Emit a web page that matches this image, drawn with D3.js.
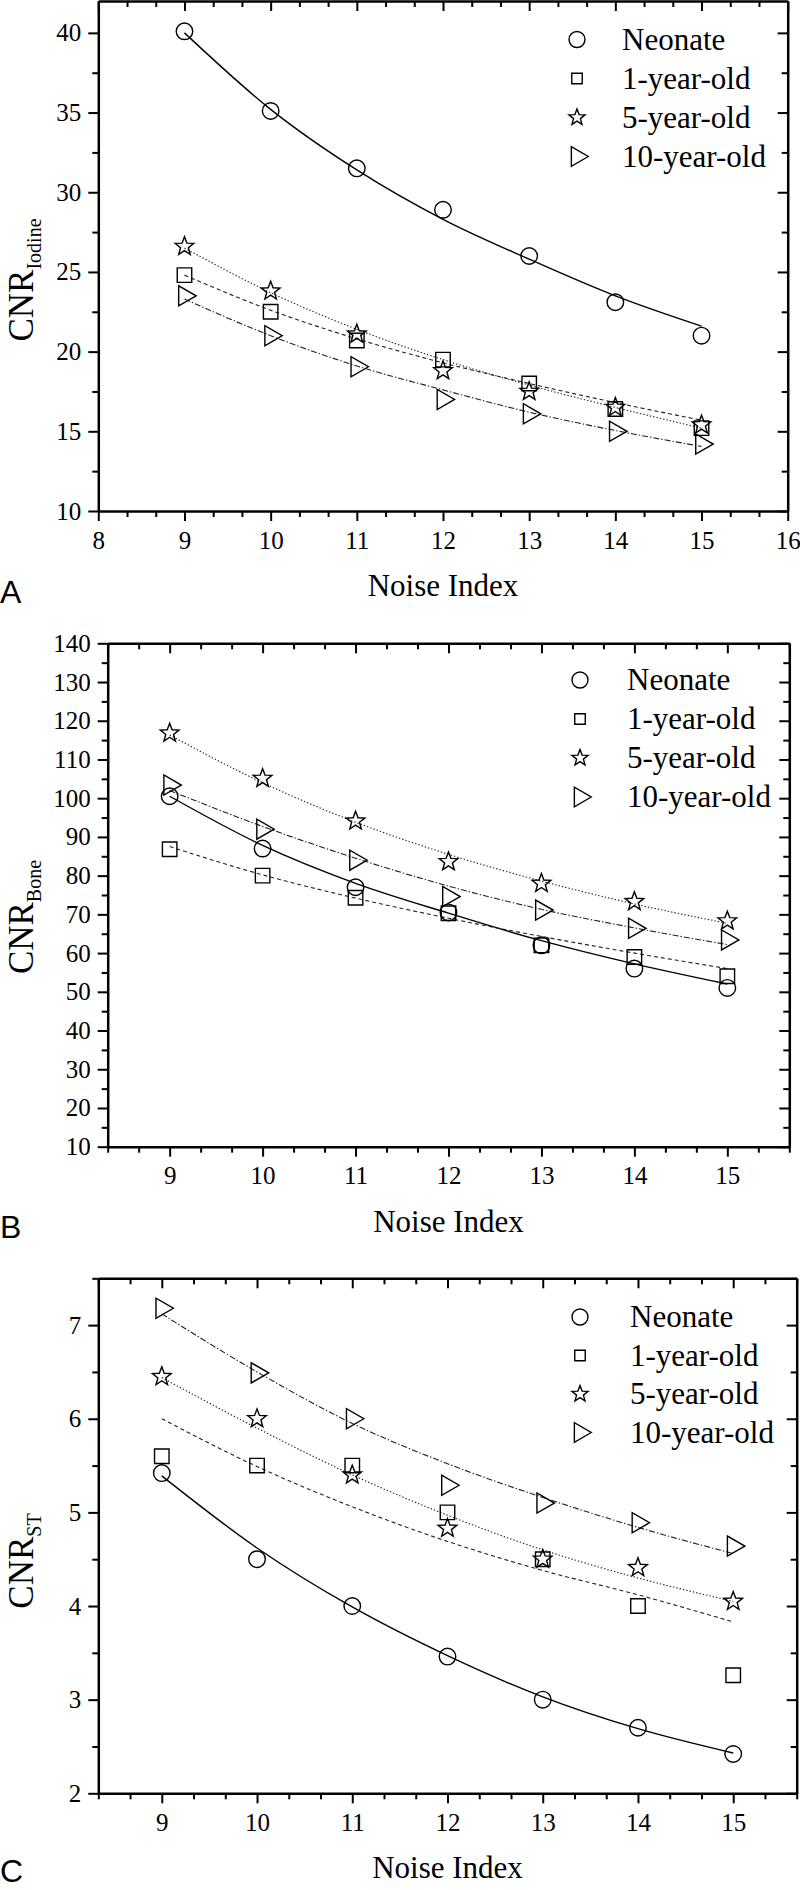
<!DOCTYPE html>
<html><head><meta charset="utf-8">
<script src="https://cdn.jsdelivr.net/npm/d3@7"></script>
<style>body{margin:0;background:#fff}svg{display:block}</style>
</head><body>
<svg id="c" width="800" height="1890"></svg>
<script>
// ---------- data ----------
const noiseIndex = [9,10,11,12,13,14,15];
const seriesNames = ["Neonate","1-year-old","5-year-old","10-year-old"];

// Panel A: CNR Iodine
const iodineNeonate = [40.1,35.1,31.5,28.9,26.0,23.1,21.0];
const iodine1yr     = [24.8,22.5,20.7,19.5,18.0,16.4,15.2];
const iodine5yr     = [26.6,23.8,21.1,18.8,17.5,16.5,15.4];
const iodine10yr    = [23.5,21.0,19.05,17.0,16.1,15.0,14.2];
const iodineNeonateFit = [40.0,35.2,31.4,28.3,25.8,23.5,21.6];
const iodine1yrFit     = [24.8,22.6,20.8,19.3,18.0,16.8,15.7];
const iodine5yrFit     = [26.5,23.7,21.4,19.5,17.9,16.5,15.2];
const iodine10yrFit    = [23.3,21.0,19.1,17.6,16.2,15.05,14.05];

// Panel B: CNR Bone
const boneNeonate = [100.5,87.0,77.0,70.5,62.0,56.0,51.0];
const bone1yr     = [86.8,80.0,74.3,70.3,62.0,59.0,54.0];
const bone5yr     = [116.8,105.1,94.1,83.6,78.0,73.3,68.3];
const bone10yr    = [103.4,92.0,84.0,74.6,71.1,66.4,63.4];
const boneNeonateFit = [100.5,87.8,78.0,70.3,63.2,57.2,52.0];
const bone1yrFit     = [87.5,80.2,74.2,69.0,64.3,60.0,56.0];
const bone5yrFit     = [116.3,104.0,93.8,85.5,78.6,72.7,67.7];
const bone10yrFit    = [102.0,92.7,84.5,77.3,71.3,66.5,62.2];

// Panel C: CNR ST
const stNeonate = [5.42,4.50,4.00,3.46,3.00,2.70,2.42];
const st1yr     = [5.60,5.50,5.50,5.00,4.50,4.00,3.26];
const st5yr     = [6.45,6.00,5.40,4.83,4.50,4.41,4.05];
const st10yr    = [7.18,6.49,6.00,5.29,5.10,4.89,4.64];
const stNeonateFit = [5.39,4.62,3.99,3.47,3.03,2.69,2.43];
const st1yrFit     = [6.00,5.49,5.06,4.69,4.38,4.12,3.83];
const st5yrFit     = [6.44,5.90,5.40,4.97,4.60,4.30,4.05];
const st10yrFit    = [7.12,6.50,5.95,5.52,5.16,4.84,4.56];

// tick labels
const xTicksA = [8,9,10,11,12,13,14,15,16];
const xTicksBC = [9,10,11,12,13,14,15];
const yTicksA = [10,15,20,25,30,35,40];
const yTicksB = [10,20,30,40,50,60,70,80,90,100,110,120,130,140];
const yTicksC = [2,3,4,5,6,7];

// ---------- drawing ----------
const svg = d3.select("#c");
const SERIF = "'Liberation Serif','Times New Roman',serif";
const SANS = "'Liberation Sans',Arial,sans-serif";
const lineDash = [null, "4,3", "1.4,2", "6,2,1.4,2"];
const symTypes = ["circle","square","star","triangle"];

function symbolPath(kind, legend){
  if(kind==="circle") return d3.symbol(d3.symbolCircle, legend?200:215)();
  if(kind==="square") return d3.symbol(d3.symbolSquare, legend?110:210)();
  if(kind==="star") return starPath(legend?8.5:9.8);
  return d3.symbol(d3.symbolTriangle, legend?165:175)();
}
function starPath(R){
  const r = R*0.42, pts=[];
  for(let i=0;i<10;i++){
    const a = -Math.PI/2 + i*Math.PI/5, rr = i%2? r:R;
    pts.push([rr*Math.cos(a), rr*Math.sin(a)]);
  }
  return "M"+pts.map(p=>p[0].toFixed(2)+","+p[1].toFixed(2)).join("L")+"Z";
}
function drawSym(g, kind, x, y, legend){
  g.append("path").attr("d", symbolPath(kind, legend))
   .attr("transform", `translate(${x},${y})` + (kind==="triangle"?" rotate(90)":""))
   .attr("fill","none").attr("stroke","#000").attr("stroke-width",1.4);
}

function panel(cfg){
  const g = svg.append("g");
  const x = d3.scaleLinear().domain(cfg.xDomain).range(cfg.xRange);
  const y = d3.scaleLinear().domain(cfg.yDomain).range(cfg.yRange);
  const [x0,x1] = cfg.xRange, [y0,y1] = cfg.yRange;

  const xMinor = d3.range(cfg.xDomain[0], cfg.xDomain[1]+0.001, 1/3)
      .filter(v => Math.abs(v-Math.round(v))>0.01);
  const yMinor = d3.range(cfg.yDomain[0], cfg.yDomain[1]+0.001, cfg.yMinorStep)
      .filter(v => !cfg.yTicks.some(t=>Math.abs(t-v)<1e-6));

  function styleAxis(sel){
    sel.select(".domain").attr("stroke","#000").attr("stroke-width",2.5);
    sel.selectAll(".tick line").attr("stroke","#000").attr("stroke-width",2);
    sel.selectAll(".tick text").attr("font-family",SERIF).attr("font-size",25).attr("fill","#000");
  }
  function minor(sel){
    sel.select(".domain").remove();
    sel.selectAll("line").attr("stroke","#000").attr("stroke-width",2);
  }
  // bottom
  g.append("g").attr("transform",`translate(0,${y0})`)
    .call(d3.axisBottom(x).tickValues(cfg.xTicks).tickSize(10).tickSizeOuter(0).tickPadding(10).tickFormat(d3.format("d")))
    .call(styleAxis);
  g.append("g").attr("transform",`translate(0,${y0})`)
    .call(d3.axisBottom(x).tickValues(xMinor).tickSize(6).tickFormat("")).call(minor);
  // top
  g.append("g").attr("transform",`translate(0,${y1})`)
    .call(d3.axisTop(x).tickValues(cfg.xTicks).tickSize(-10).tickSizeOuter(0).tickFormat(""))
    .call(styleAxis);
  g.append("g").attr("transform",`translate(0,${y1})`)
    .call(d3.axisTop(x).tickValues(xMinor).tickSize(-6).tickFormat("")).call(minor);
  // left
  g.append("g").attr("transform",`translate(${x0},0)`)
    .call(d3.axisLeft(y).tickValues(cfg.yTicks).tickSize(10).tickSizeOuter(0).tickPadding(7).tickFormat(d3.format("d")))
    .call(styleAxis);
  g.append("g").attr("transform",`translate(${x0},0)`)
    .call(d3.axisLeft(y).tickValues(yMinor).tickSize(6).tickFormat("")).call(minor);
  // right
  g.append("g").attr("transform",`translate(${x1},0)`)
    .call(d3.axisRight(y).tickValues(cfg.yTicks).tickSize(-10).tickSizeOuter(0).tickFormat(""))
    .call(styleAxis);
  g.append("g").attr("transform",`translate(${x1},0)`)
    .call(d3.axisRight(y).tickValues(yMinor).tickSize(-6).tickFormat("")).call(minor);

  // fit curves
  const line = d3.line().x((d,i)=>x(noiseIndex[i])).y(d=>y(d)).curve(d3.curveMonotoneX);
  cfg.fits.forEach((f,k)=>{
    g.append("path").attr("d", line(f)).attr("fill","none")
      .attr("stroke", k===0?"#000":"#222").attr("stroke-width", k===0?1.4:1.1)
      .attr("stroke-dasharray", lineDash[k]);
  });
  // markers
  cfg.series.forEach((s,k)=>{
    s.forEach((v,i)=> drawSym(g, symTypes[k], x(noiseIndex[i]), y(v), false));
  });

  // legend
  seriesNames.forEach((name,k)=>{
    const cy = cfg.legY + k*cfg.legStep;
    drawSym(g, symTypes[k], cfg.legSymX, cy, true);
    g.append("text").attr("x",cfg.legTextX).attr("y",cy+10)
      .attr("font-family",SERIF).attr("font-size",31).text(name);
  });

  // axis titles
  g.append("text").attr("x",(x0+x1)/2).attr("y",y0+85).attr("text-anchor","middle")
    .attr("font-family",SERIF).attr("font-size",31).text("Noise Index");
  const yl = g.append("text").attr("transform",`translate(${cfg.yLabX},${cfg.yLabY}) rotate(-90)`)
    .attr("text-anchor","middle").attr("font-family",SERIF);
  yl.append("tspan").attr("font-size",35).text("CNR");
  yl.append("tspan").attr("font-size",20).attr("dy",8).text(cfg.sub);

  g.append("text").attr("x",0).attr("y",cfg.letterY).attr("font-family",SANS)
    .attr("font-size",32).text(cfg.letter);
}

panel({
  xDomain:[8,16], xRange:[98.3,787.7], yDomain:[10,42], yRange:[511,1], xTicks:xTicksA, yTicks:yTicksA, yMinorStep:2.5,
  series:[iodineNeonate,iodine1yr,iodine5yr,iodine10yr],
  fits:[iodineNeonateFit,iodine1yrFit,iodine5yrFit,iodine10yrFit],
  legSymX:577, legTextX:622, legY:39.5, legStep:39,
  yLabX:33, yLabY:280, sub:"Iodine", letter:"A", letterY:603
});
panel({
  xDomain:[8+1/3,15+2/3], xRange:[107.7,789.3], yDomain:[10,140], yRange:[1146.7,643.3], xTicks:xTicksBC, yTicks:yTicksB, yMinorStep:5,
  series:[boneNeonate,bone1yr,bone5yr,bone10yr],
  fits:[boneNeonateFit,bone1yrFit,bone5yrFit,bone10yrFit],
  legSymX:580, legTextX:627, legY:680, legStep:39,
  yLabX:33, yLabY:917, sub:"Bone", letter:"B", letterY:1238
});
panel({
  xDomain:[8+1/3,15+2/3], xRange:[98.3,796.7], yDomain:[2,7.5], yRange:[1793.3,1278.3], xTicks:xTicksBC, yTicks:yTicksC, yMinorStep:0.5,
  series:[stNeonate,st1yr,st5yr,st10yr],
  fits:[stNeonateFit,st1yrFit,st5yrFit,st10yrFit],
  legSymX:580, legTextX:630, legY:1317, legStep:38.5,
  yLabX:33, yLabY:1561, sub:"ST", letter:"C", letterY:1882
});
</script>
</body></html>
